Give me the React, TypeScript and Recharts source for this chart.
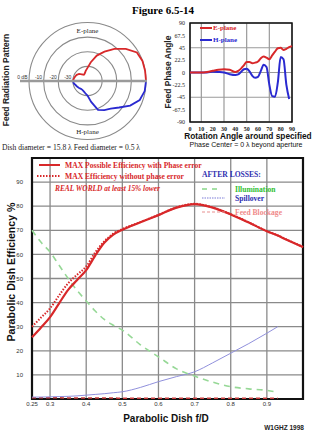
import React from "react";
import {
  LineChart,
  Line,
  XAxis,
  YAxis,
  CartesianGrid,
  ReferenceArea,
  RadarChart,
  Radar,
  PolarGrid,
  PolarAngleAxis,
  PolarRadiusAxis,
} from "recharts";

const sans = "'Liberation Sans', Arial, sans-serif";
const serif = "'Liberation Serif', 'Times New Roman', serif";

// main chart: efficiency vs f/D
const fdValues = [0.25, 0.275, 0.3, 0.325, 0.35, 0.375, 0.4, 0.425, 0.45, 0.475, 0.5, 0.55, 0.6, 0.65, 0.7, 0.75, 0.8, 0.85, 0.9, 0.93, 0.95, 1.0];
const effWithPhase = [25.6, 29.7, 34.0, 39.7, 45.3, 49.4, 53.5, 59.5, 64.8, 68.2, 70.2, 73.3, 76.3, 79.4, 80.9, 79.4, 76.6, 73.2, 69.6, 67.8, 66.4, 63.0];
const effNoPhase = [30.0, 33.8, 37.6, 43.0, 48.0, 51.6, 55.0, 60.8, 65.4, 68.6, 70.5, 73.4, 76.4, 79.5, 81.0, 79.5, 76.7, 73.3, 69.7, 67.9, 66.5, 63.1];
const illumination = [70.0, 65.0, 61.0, 55.5, 50.0, 45.0, 40.7, 36.5, 33.0, 30.6, 28.6, 22.5, 17.5, 12.5, 9.5, 7.0, 5.1, 4.2, 3.6, 2.8, null, null];
const spillover = [0.8, 0.8, 0.9, 1.0, 1.1, 1.3, 1.6, 1.9, 2.2, 2.6, 3.0, 4.8, 7.2, 9.3, 11.3, 15.0, 19.0, 23.0, 27.3, 30.0, null, null];
const feedBlockage = [0.5, 0.5, 0.5, 0.5, 0.4, 0.4, 0.4, 0.4, 0.4, 0.4, 0.3, 0.3, 0.3, 0.3, 0.3, 0.3, 0.3, 0.3, 0.3, 0.3, null, null];
const fdTicks = [0.25, 0.3, 0.4, 0.5, 0.6, 0.7, 0.8, 0.9];
const effTicks = [10, 20, 30, 40, 50, 60, 70, 80, 90];
const dbTicks = [79.4, 63.1, 50.1, 39.8, 31.6, 25.1, 20.0, 15.8];
const dbLabels = ["1 dB", "2 dB", "3 dB", "4 dB", "5 dB", "6 dB", "7 dB", "8 dB"];

// feed phase
const phaseAngles = [0, 5, 10, 15, 20, 25, 30, 35, 40, 42.5, 45, 47.5, 50, 52.5, 55, 57.5, 60, 62.5, 65, 67.5, 70, 72.5, 75, 77.5, 80, 82.5, 85, 87.5, 90];
const ePhase = [0, 0, 0, 1, 3, 5, 6, 5, 1, 3, 7, 13, 19, 19, 17, 18, 20, 26, 29, 27, 24, 31, 38, 44, 45, 41, 43, 46, 48];
const hPhase = [0, 0, 0, 0, 1.5, 1, 0, -3, -4.5, -3.5, 1, 6, 7, 2, -6, -9.5, -8, 3, 14, 10, -22, -43, -44, -18, 28, 24, -22, -48, null];
const phaseTicks = [-90, -67.5, -45, -22.5, 0, 22.5, 45, 67.5, 90];
const rotationTicks = [0, 10, 20, 30, 40, 50, 60, 70, 80, 90];

// feed radiation pattern (dB), E-plane drawn 0..180 deg, H-plane 180..360 deg
const patternAngles = [0, 10, 20, 30, 40, 50, 60, 70, 80, 90, 100, 110, 120, 130, 140, 150, 160, 170, 180, 190, 200, 210, 220, 230, 240, 250, 260, 270, 280, 290, 300, 310, 320, 330, 340, 350, 360];
const ePattern = [0, 0, 0, -1, -5.8, -11.3, -16.8, -21.5, -27, -31, -33, -34.5, -35, -34, -32.5, -31.5, -31, -30.5, -30];
const hPattern = [-30, -30.5, -31.5, -32, -32.5, -33, -33, -32.5, -31.5, -30, -25.5, -19, -17, -15.3, -11.8, -6.3, -2, -0.3, 0];
const patternFloor = -40; // centre of the plot
const patternRings = [-30, -20, -10, 0];
const ringLabels = ["-30", "-20", "-10", "0 dB"];
const planeAngles = [90, 270];
const planeLabels = ["E-plane", "H-plane"];

const effData = fdValues.map((fd, i) => ({
  fd,
  withPhase: effWithPhase[i],
  noPhase: effNoPhase[i],
  illum: illumination[i],
  spill: spillover[i],
  block: feedBlockage[i],
}));

const phaseData = phaseAngles.map((a, i) => ({ a, e: ePhase[i], h: hPhase[i] }));

// the half that a plane does not use sits at the centre, so its closing stroke runs along the axis line
const patternData = patternAngles.map((angle, i) => ({
  angle,
  e: i <= 18 ? ePattern[i] : patternFloor,
  h: i >= 18 ? hPattern[i - 18] : patternFloor,
}));

const RED = "#d8282a";
const BLUE = "#2a2ad0";

function RingTick(props: any) {
  const { x, y, payload } = props;
  const idx = patternRings.indexOf(payload.value);
  return (
    <text x={x - 1.5} y={y - 2.5} textAnchor="end" fontSize={5} fontFamily={sans} fill="#333">
      {ringLabels[idx]}
    </text>
  );
}

function PlaneTick(props: any) {
  const { x, y, payload } = props;
  const idx = planeAngles.indexOf(payload.value);
  return (
    <text x={x} y={y} textAnchor="middle" dominantBaseline="central" fontSize={7} fontFamily={serif} fill="#222">
      {planeLabels[idx]}
    </text>
  );
}

function Overlay() {
  return (
    <svg width={331} height={432} style={{ position: "absolute", left: 0, top: 0, pointerEvents: "none" }}>
      <text x={163} y={14} textAnchor="middle" fontFamily={serif} fontWeight="bold" fontSize={11}>
        Figure 6.5-14
      </text>
      {/* axis line of the polar plot, over the curves */}
      <line x1={20} y1={81} x2={147} y2={81} stroke="#9a9a9a" strokeWidth={2.6} />
      <text x={6} y={80} transform="rotate(-90 6 80)" textAnchor="middle" dominantBaseline="central" fontFamily={sans} fontWeight="bold" fontSize={8.5} fill="#222">
        Feed Radiation Pattern
      </text>
      <text x={2} y={147} dominantBaseline="central" fontFamily={serif} fontSize={7.6} fill="#222">
        Dish diameter = 15.8 λ Feed diameter = 0.5 λ
      </text>
      <text x={168} y={72} transform="rotate(-90 168 72)" textAnchor="middle" dominantBaseline="central" fontFamily={sans} fontWeight="bold" fontSize={8.5} fill="#222">
        Feed Phase Angle
      </text>
      {/* phase legend */}
      <line x1={200} y1={28} x2={212} y2={28} stroke={RED} strokeWidth={2} />
      <text x={213} y={28} dominantBaseline="central" fontFamily={serif} fontWeight="bold" fontSize={7} fill={RED}>E-plane</text>
      <line x1={200} y1={40} x2={212} y2={40} stroke={BLUE} strokeWidth={2} />
      <text x={213} y={40} dominantBaseline="central" fontFamily={serif} fontWeight="bold" fontSize={7} fill={BLUE}>H-plane</text>
      <text x={248} y={136.3} textAnchor="middle" dominantBaseline="central" fontFamily={sans} fontWeight="bold" fontSize={8.3} fill="#111">
        Rotation Angle around specified
      </text>
      <text x={246} y={144.3} textAnchor="middle" dominantBaseline="central" fontFamily={sans} fontSize={7} fill="#111">
        Phase Center = 0 λ beyond aperture
      </text>
      {/* main legend */}
      <line x1={39} y1={165} x2={60} y2={165} stroke={RED} strokeWidth={2} />
      <text x={65} y={165} dominantBaseline="central" fontFamily={serif} fontWeight="bold" fontSize={7.6} fill={RED}>
        MAX Possible Efficiency with Phase error
      </text>
      <line x1={37} y1={176} x2={60} y2={176} stroke={RED} strokeWidth={2} strokeDasharray="1.5 1.5" />
      <text x={65} y={176} dominantBaseline="central" fontFamily={serif} fontWeight="bold" fontSize={7.6} fill={RED}>
        MAX Efficiency without phase error
      </text>
      <text x={55} y={188} dominantBaseline="central" fontFamily={serif} fontStyle="italic" fontWeight="bold" fontSize={7.4} fill={RED}>
        REAL WORLD at least 15% lower
      </text>
      <text x={202} y={174} dominantBaseline="central" fontFamily={serif} fontWeight="bold" fontSize={7.6} fill="#3030b0">
        AFTER LOSSES:
      </text>
      <line x1={202} y1={189} x2={222} y2={189} stroke="#88d888" strokeWidth={1.5} strokeDasharray="5 5" />
      <text x={235} y={189} dominantBaseline="central" fontFamily={serif} fontWeight="bold" fontSize={7.6} fill="#30c030">Illumination</text>
      <line x1={202} y1={198} x2={225} y2={198} stroke="#7c7cd8" strokeWidth={1.2} strokeDasharray="1.5 1" />
      <text x={235} y={198} dominantBaseline="central" fontFamily={serif} fontWeight="bold" fontSize={7.6} fill="#2c2cb0">Spillover</text>
      <line x1={202} y1={212} x2={225} y2={212} stroke="#e89090" strokeWidth={1.2} strokeDasharray="3 2" />
      <text x={235} y={212} dominantBaseline="central" fontFamily={serif} fontWeight="bold" fontSize={7.6} fill="#f08a8a">Feed Blockage</text>
      {/* axis titles */}
      <text x={11} y={272} transform="rotate(-90 11 272)" textAnchor="middle" dominantBaseline="central" fontFamily={sans} fontWeight="bold" fontSize={10.6} fill="#111">
        Parabolic Dish Efficiency %
      </text>
      <text x={166} y={418} textAnchor="middle" dominantBaseline="central" fontFamily={sans} fontWeight="bold" fontSize={10} fill="#111">
        Parabolic Dish f/D
      </text>
      <text x={284} y={427} textAnchor="middle" dominantBaseline="central" fontFamily={sans} fontWeight="bold" fontSize={6.5} fill="#222">
        W1GHZ 1998
      </text>
    </svg>
  );
}

export default function App() {
  return (
    <div style={{ position: "relative", width: 331, height: 432, background: "#fff", overflow: "hidden" }}>
      <style>{"body{margin:0}"}</style>

      {/* feed radiation pattern */}
      <div style={{ position: "absolute", left: 0, top: 15 }}>
        <RadarChart
          width={160}
          height={130}
          data={patternData}
          cx={87.5}
          cy={66}
          outerRadius={58.5}
          startAngle={0}
          endAngle={360}
          margin={{ top: 0, right: 0, bottom: 0, left: 0 }}
        >
          <PolarGrid gridType="circle" polarAngles={[0, 180]} stroke="#8a8a8a" strokeWidth={1.1} />
          <Radar dataKey="e" stroke={RED} strokeWidth={1.8} fill="none" fillOpacity={0} isAnimationActive={false} />
          <Radar dataKey="h" stroke={BLUE} strokeWidth={1.8} fill="none" fillOpacity={0} isAnimationActive={false} />
          <PolarAngleAxis
            dataKey="angle"
            type="number"
            domain={[0, 360]}
            ticks={planeAngles}
            orientation="inner"
            tickSize={8}
            axisLine={false}
            tickLine={false}
            tick={<PlaneTick />}
          />
          <PolarRadiusAxis
            type="number"
            domain={[-40, 0]}
            ticks={patternRings}
            angle={180}
            axisLine={false}
            tickLine={false}
            tick={<RingTick />}
          />
        </RadarChart>
      </div>

      {/* feed phase angle */}
      <div style={{ position: "absolute", left: 160, top: 15 }}>
        <LineChart width={140} height={125} data={phaseData} margin={{ top: 8, right: 8, bottom: 0, left: 0 }}>
          <CartesianGrid stroke="#9a9a9a" strokeWidth={1.2} />
          <XAxis
            dataKey="a"
            type="number"
            domain={[0, 90]}
            ticks={rotationTicks}
            height={18}
            tickSize={0}
            tickMargin={5}
            axisLine={false}
            tick={{ fontSize: 6, fontFamily: serif, fontWeight: "bold", fill: "#222" }}
          />
          <YAxis
            type="number"
            domain={[-90, 90]}
            ticks={phaseTicks}
            width={30}
            tickSize={0}
            tickMargin={5}
            axisLine={false}
            tick={{ fontSize: 6, fontFamily: serif, fill: "#222" }}
          />
          <ReferenceArea x1={0} x2={90} y1={-90} y2={90} fill="none" stroke="#111" strokeWidth={1.5} ifOverflow="visible" />
          <Line dataKey="h" type="monotone" stroke={BLUE} strokeWidth={2} dot={false} isAnimationActive={false} />
          <Line dataKey="e" type="monotone" stroke={RED} strokeWidth={2} dot={false} isAnimationActive={false} />
        </LineChart>
      </div>

      {/* dish efficiency */}
      <div style={{ position: "absolute", left: 0, top: 150 }}>
        <LineChart width={331} height={282} data={effData} margin={{ top: 8, right: 0, bottom: 0, left: 0 }}>
          <CartesianGrid yAxisId="pct" stroke="#8a8a8a" strokeWidth={1.3} />
          <XAxis
            dataKey="fd"
            type="number"
            domain={[0.25, 1.0]}
            ticks={fdTicks}
            height={33}
            tickSize={0}
            tickMargin={3}
            axisLine={false}
            tick={{ fontSize: 6, fontFamily: sans, fill: "#333" }}
          />
          <YAxis
            yAxisId="pct"
            type="number"
            domain={[0, 100]}
            ticks={effTicks}
            width={32}
            tickSize={0}
            tickMargin={9}
            axisLine={false}
            tick={{ fontSize: 6, fontFamily: sans, fill: "#333" }}
          />
          <YAxis
            yAxisId="db"
            orientation="right"
            type="number"
            domain={[0, 100]}
            ticks={dbTicks}
            width={28}
            tickSize={4}
            tickMargin={1}
            axisLine={false}
            tickLine={{ stroke: "#333" }}
            tickFormatter={(v: number) => dbLabels[dbTicks.indexOf(v)]}
            tick={{ fontSize: 5.5, fontFamily: sans, fill: "#333" }}
          />
          <ReferenceArea yAxisId="pct" x1={0.25} x2={1.0} y1={0} y2={100} fill="none" stroke="#111" strokeWidth={2.2} ifOverflow="visible" />
          <Line yAxisId="pct" dataKey="block" type="monotone" stroke="#c83c3c" strokeWidth={1.5} strokeDasharray="4 3" dot={false} isAnimationActive={false} />
          <Line yAxisId="pct" dataKey="spill" type="monotone" stroke="#9090dc" strokeWidth={1} dot={false} isAnimationActive={false} />
          <Line yAxisId="pct" dataKey="illum" type="monotone" stroke="#96d896" strokeWidth={1.6} strokeDasharray="6 5" dot={false} isAnimationActive={false} />
          <Line yAxisId="pct" dataKey="withPhase" type="monotone" stroke={RED} strokeWidth={2.2} dot={false} isAnimationActive={false} />
          <Line yAxisId="pct" dataKey="noPhase" type="monotone" stroke={RED} strokeWidth={2} strokeDasharray="1.5 1.5" dot={false} isAnimationActive={false} />
        </LineChart>
      </div>

      <Overlay />
    </div>
  );
}
